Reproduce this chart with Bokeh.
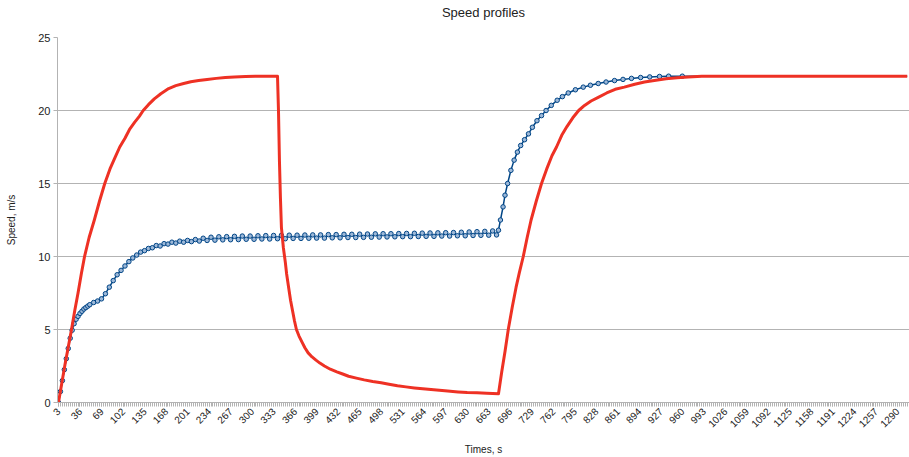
import math
from bokeh.plotting import figure
from bokeh.models import FixedTicker, Range1d, ColumnDataSource, Title
from bokeh.embed import file_html
from bokeh.resources import INLINE

# ---- data ----
title_text = "Speed profiles"
x_tick_labels = [3, 36, 69, 102, 135, 168, 201, 234, 267, 300, 333, 366, 399, 432,
                 465, 498, 531, 564, 597, 630, 663, 696, 729, 762, 795, 828, 861,
                 894, 927, 960, 993, 1026, 1059, 1092, 1125, 1158, 1191, 1224, 1257, 1290]
y_ticks = [0, 5, 10, 15, 20, 25]

red_t = [3, 8, 13, 18, 23, 28, 33, 38, 43, 50, 58, 66, 74, 82, 90, 97, 105, 112, 120, 127,
         133, 141, 150, 160, 172, 183, 195, 206, 218, 231, 245, 259, 273, 290, 305, 339,
         340.5, 342, 343.5, 345, 348, 351, 353, 356, 359, 362, 365, 368, 372, 377, 381, 386,
         392, 398, 404, 411, 420, 430, 439, 448, 460, 472, 485, 498, 510, 523, 536, 549, 566,
         583, 600, 616, 630, 645, 660, 678,
         683, 688, 693, 699, 705, 710, 716, 722, 728, 736, 744, 752, 760, 767, 775, 783, 792,
         801, 810, 820, 831, 844, 857, 871, 887, 902, 917, 935, 952, 969, 990, 1010, 1100,
         1200, 1305]
red_v = [0.0, 1.3, 2.6, 3.8, 5.0, 6.3, 7.5, 8.8, 10.0, 11.3, 12.5, 13.8, 15.0, 16.0, 16.8, 17.5, 18.1, 18.7, 19.2, 19.6,
         20.0, 20.4, 20.8, 21.15, 21.5, 21.7, 21.85, 21.97, 22.05, 22.13, 22.2, 22.26, 22.3, 22.33, 22.35, 22.35,
         20.0, 16.5, 14.0, 12.0, 10.6, 9.6, 8.8, 7.9, 7.0, 6.3, 5.6, 5.0, 4.55, 4.1, 3.75, 3.4,
         3.12, 2.9, 2.7, 2.5, 2.28, 2.1, 1.95, 1.8, 1.67, 1.55, 1.44, 1.35, 1.25, 1.15, 1.07, 1.0, 0.92,
         0.85, 0.78, 0.72, 0.68, 0.66, 0.63, 0.6,
         2.1, 3.5, 5.0, 6.5, 7.9, 8.9, 10.0, 11.3, 12.5, 13.8, 15.0, 16.0, 16.9, 17.5, 18.3, 18.9, 19.5,
         20.0, 20.35, 20.65, 20.9, 21.2, 21.45, 21.6, 21.8, 21.95, 22.05, 22.17, 22.25, 22.3, 22.34, 22.35, 22.35,
         22.35, 22.35]

blue_t = [3, 6, 9, 12, 15, 18, 21, 24, 27, 30, 33, 36, 39, 42, 45, 48, 51, 57, 63, 69, 75, 81, 87, 93, 99, 105, 111, 117,
          123, 129, 135, 141, 147, 153, 159, 165, 171, 177, 183, 189, 195, 201, 207, 213, 219, 225,
          231, 237, 243, 249, 255, 261, 267, 273, 279, 285, 291, 297, 303, 309, 315, 321, 327, 333,
          339, 345, 351, 357, 363, 369, 375, 381, 387, 393, 399, 405, 411, 417, 423, 429, 435, 441,
          447, 453, 459, 465, 471, 477, 483, 489, 495, 501, 507, 513, 519, 525, 531, 537, 543, 549,
          555, 561, 567, 573, 579, 585, 591, 597, 603, 609, 615, 621, 627, 633, 639, 645, 651, 657,
          663, 669, 675,
          678, 681, 685, 688, 692, 697, 702, 707, 712, 718, 724, 730, 737, 744, 751, 759, 768, 776,
          785, 796, 808, 819, 831, 843, 856, 869, 882, 896, 910, 925, 939, 960,
          1000, 1100, 1200, 1305]
blue_v = [0.0, 0.75, 1.5, 2.25, 3.0, 3.7, 4.4, 4.95, 5.4, 5.7, 5.9, 6.1, 6.25, 6.4, 6.5, 6.6, 6.7, 6.85, 6.95, 7.1, 7.45, 7.9, 8.35, 8.75, 9.05, 9.35, 9.65, 9.9,
          10.1, 10.3, 10.4, 10.55, 10.6, 10.75, 10.72, 10.88, 10.85, 10.98, 10.92, 11.05, 10.98, 11.1, 11.02, 11.16, 11.06, 11.25,
          11.10, 11.32, 11.12, 11.35, 11.14, 11.36, 11.15, 11.38, 11.16, 11.40, 11.18, 11.40, 11.18, 11.42, 11.20, 11.43, 11.20, 11.44,
          11.22, 11.45, 11.22, 11.46, 11.24, 11.46, 11.24, 11.47, 11.25, 11.48, 11.26, 11.48, 11.26, 11.50, 11.28, 11.50, 11.28, 11.52,
          11.30, 11.52, 11.30, 11.53, 11.31, 11.54, 11.32, 11.55, 11.33, 11.56, 11.34, 11.56, 11.35, 11.57, 11.36, 11.58, 11.36, 11.59,
          11.37, 11.60, 11.38, 11.61, 11.38, 11.62, 11.40, 11.63, 11.40, 11.64, 11.42, 11.66, 11.42, 11.68, 11.44, 11.70, 11.45, 11.72,
          11.46, 11.75, 11.48,
          11.8, 12.5, 13.4, 14.2, 15.0, 15.9, 16.6, 17.15, 17.6, 18.0, 18.4, 18.85, 19.3, 19.65, 20.0, 20.35, 20.7, 20.95,
          21.2, 21.42, 21.6, 21.73, 21.85, 21.95, 22.05, 22.13, 22.2, 22.26, 22.3, 22.33, 22.35, 22.35,
          22.35, 22.35, 22.35, 22.35]

RED = "#ee3124"
BLUE = "#004586"
GRID = "#b3b3b3"
FONT = "Liberation Sans"

p = figure(width=909, height=457, output_backend="svg", toolbar_location=None,
           x_range=Range1d(1.5, 1308.5), y_range=Range1d(0, 25),
           min_border_left=57, min_border_right=0, min_border_top=37, min_border_bottom=54)
p.outline_line_color = None
p.background_fill_color = "white"
p.border_fill_color = "white"

# spacer panel between the frame and the title, to lift the title up
p.add_layout(Title(text=" ", text_font_size="12px", standoff=0), "above")

p.title.text = title_text
p.title.align = "center"
p.title.text_font = FONT
p.title.text_font_size = "13px"
p.title.text_font_style = "normal"
p.title.text_color = "#222222"
p.title.standoff = 4

p.xgrid.visible = False
p.ygrid.grid_line_color = GRID
p.ygrid.grid_line_width = 1

# y axis
yax = p.yaxis[0]
yax.ticker = FixedTicker(ticks=y_ticks)
yax.axis_line_color = GRID
yax.major_tick_line_color = GRID
yax.major_tick_out = 4
yax.major_tick_in = 0
yax.minor_tick_line_color = None
yax.major_label_text_font = FONT
yax.major_label_text_font_size = "11px"
yax.major_label_text_color = "#222222"
yax.major_label_standoff = 3
yax.axis_label = "Speed, m/s"
yax.axis_label_text_font = FONT
yax.axis_label_text_font_size = "10px"
yax.axis_label_text_font_style = "normal"
yax.axis_label_text_color = "#222222"
yax.axis_label_standoff = 18

# x axis
xax = p.xaxis[0]
xax.ticker = FixedTicker(ticks=x_tick_labels, minor_ticks=list(range(3, 1308, 3)))
xax.axis_line_color = GRID
xax.major_tick_line_color = GRID
xax.minor_tick_line_color = GRID
xax.major_tick_out = 4
xax.major_tick_in = 0
xax.minor_tick_out = 4
xax.minor_tick_in = 0
xax.major_label_orientation = math.pi / 4
xax.major_label_text_font = FONT
xax.major_label_text_font_size = "10px"
xax.major_label_text_color = "#222222"
xax.major_label_standoff = 3
xax.axis_label = "Times, s"
xax.axis_label_text_font = FONT
xax.axis_label_text_font_size = "10px"
xax.axis_label_text_font_style = "normal"
xax.axis_label_text_color = "#222222"
xax.axis_label_standoff = 10

# markers only where the blue curve is not hidden under the red one
n_marked = sum(1 for t in blue_t if t <= 960)
blue_src = ColumnDataSource(dict(t=blue_t, v=blue_v))
blue_mark_src = ColumnDataSource(dict(t=blue_t[:n_marked], v=blue_v[:n_marked]))
red_src = ColumnDataSource(dict(t=red_t, v=red_v))

p.line("t", "v", source=blue_src, line_color=BLUE, line_width=1.5)
p.scatter("t", "v", source=blue_mark_src, marker="circle", size=4.5,
          line_color=BLUE, line_width=1, fill_color="#9db8d8")
p.line("t", "v", source=red_src, line_color=RED, line_width=3, line_join="round")

open("out.html", "w").write(file_html(p, INLINE))
